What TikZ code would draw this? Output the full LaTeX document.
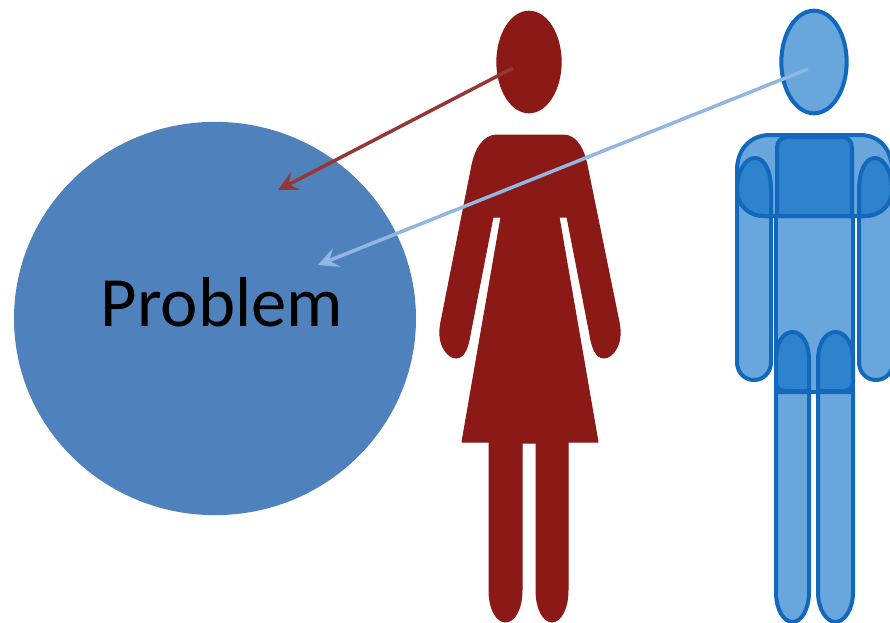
\documentclass[tikz,border=0pt]{standalone}
\usepackage{fontspec}
\setmainfont{Carlito}
\usetikzlibrary{shapes.geometric,arrows.meta}
\definecolor{wred}{HTML}{8B1A16}
\definecolor{mlight}{HTML}{69A6DB}
\definecolor{mdark}{HTML}{2E83CC}
\definecolor{mline}{HTML}{1268BC}
\definecolor{pblue}{HTML}{4F81BD}
\definecolor{abrown}{HTML}{953735}
\definecolor{ablue}{HTML}{92B6E2}
\tikzset{
  head/.style={ellipse,inner sep=0pt,minimum width=49pt,minimum height=77pt},
  wshape/.style={fill=wred,draw=wred,line width=0.75pt,line join=round},
  mshape/.style={fill=mlight,draw=mline,line width=3pt,line join=round},
  mdeep/.style={fill=mdark,draw=mline,line width=3pt,line join=round},
  conn/.style={line width=2.6pt,-{Stealth[length=15pt,width=15pt,inset=6pt]}}
}
\begin{document}
\begin{tikzpicture}[x=0.75pt,y=-0.75pt]
\useasboundingbox (0,0) rectangle (890,622);
\clip (0,0) rectangle (890,622);
% problem circle
\node[ellipse,inner sep=0pt,minimum width=301.5pt,minimum height=295pt,fill=pblue] (problem) at (215,318.5) {};
\node[inner sep=0pt,font=\fontsize{53}{60}\selectfont,text=black] (label) at (222,302) {Problem};
% woman
\node[head,fill=wred] (whead) at (529,62) {};
\draw[wshape] (497,135) -- (563,135)
  .. controls (577,135) and (584,150) .. (587,165)
  -- (619,322)
  .. controls (624,345) and (612,358) .. (604,358)
  .. controls (596,358) and (592,348) .. (590,335)
  -- (567,217) -- (559,217) -- (598,442) -- (568,442)
  -- (568,590)
  .. controls (568,610) and (560,622) .. (552,622)
  .. controls (544,622) and (536,610) .. (536,590)
  -- (536,443) -- (522,443) -- (522,590)
  .. controls (522,610) and (514,622) .. (505.5,622)
  .. controls (497,622) and (489,610) .. (489,590)
  -- (489,442) -- (462,442) -- (501,217) -- (493,217)
  -- (470,335)
  .. controls (468,348) and (464,358) .. (456,358)
  .. controls (448,358) and (436,345) .. (441,322)
  -- (472,165)
  .. controls (475,150) and (483,135) .. (497,135) -- cycle;
% man
\node[head,fill=mlight,draw=mline,line width=3pt] (mhead) at (814,62) {};
\draw[mshape] (737,180) -- (771,180) -- (771,362)
  .. controls (771,373) and (763,380) .. (754,380)
  .. controls (745,380) and (737,373) .. (737,362) -- cycle;
\draw[mshape] (859,180) -- (893,180) -- (893,362)
  .. controls (893,373) and (885,380) .. (876,380)
  .. controls (867,380) and (859,373) .. (859,362) -- cycle;
\draw[mshape] (776,205) rectangle (853,392);
\draw[mshape] (776,392) -- (809,392) -- (809,592)
  .. controls (809,610) and (801,622) .. (792.5,622)
  .. controls (784,622) and (776,610) .. (776,592) -- cycle;
\draw[mshape] (818,392) -- (853,392) -- (853,592)
  .. controls (853,610) and (844,622) .. (835.5,622)
  .. controls (827,622) and (818,610) .. (818,592) -- cycle;
\draw[mshape] (770,135) -- (860,135)
  .. controls (880,135) and (892,150) .. (892,170)
  -- (892,190) .. controls (892,205) and (880,216) .. (865,216)
  -- (764,216) .. controls (749,216) and (737,205) .. (737,190)
  -- (737,170) .. controls (737,150) and (750,135) .. (770,135) -- cycle;
\draw[mdeep] (764,216) .. controls (749,216) and (737,205) .. (737,190)
  .. controls (737,172) and (745,158) .. (755,158)
  .. controls (765,158) and (771,172) .. (771,190) -- (771,216) -- cycle;
\draw[mdeep] (865,216) .. controls (880,216) and (892,205) .. (892,190)
  .. controls (892,172) and (884,158) .. (875,158)
  .. controls (865,158) and (859,172) .. (859,190) -- (859,216) -- cycle;
\draw[mdeep] (789,137) -- (841,137)
  .. controls (848,137) and (852,141) .. (852,148)
  -- (852,216) -- (777,216) -- (777,148)
  .. controls (777,141) and (781,137) .. (789,137) -- cycle;
\draw[mdeep] (776,360) .. controls (776,343) and (783,332) .. (792.5,332)
  .. controls (802,332) and (809,343) .. (809,360)
  -- (809,391) -- (786,391) .. controls (780,391) and (776,388) .. (776,382) -- cycle;
\draw[mdeep] (818,360) .. controls (818,343) and (826,332) .. (835.5,332)
  .. controls (845,332) and (853,343) .. (853,360)
  -- (853,382) .. controls (853,388) and (849,391) .. (843,391) -- (818,391) -- cycle;
% connectors
\coordinate (wstart) at (513,68);
\coordinate (wend) at (278,190);
\coordinate (mstart) at (808,69);
\coordinate (mend) at (318,265);
\draw[conn,draw=abrown,fill=abrown] (wstart) -- (wend);
\draw[conn,draw=ablue,fill=ablue] (mstart) -- (mend);
\end{tikzpicture}
\end{document}
